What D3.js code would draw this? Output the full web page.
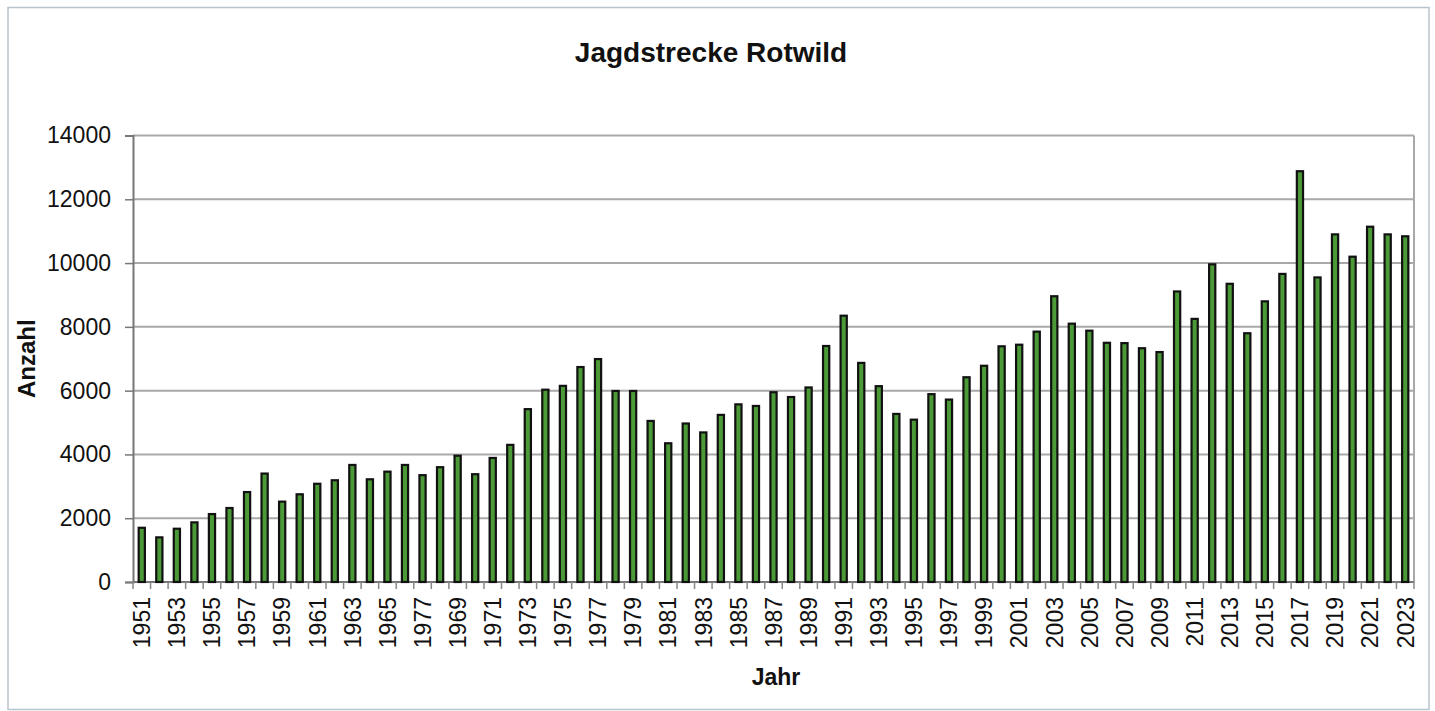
<!DOCTYPE html>
<html>
<head>
<meta charset="utf-8">
<script src="https://cdn.jsdelivr.net/npm/d3@7"></script>
<style>
  body { margin: 0; background: #fff; }
  text { font-family: Arial, "Liberation Sans", sans-serif; fill: #111; }
</style>
</head>
<body>
<script>
// Data
let years = d3.range(1951, 2024).map(String);
let values = [
  1700, 1400, 1670, 1870, 2130, 2320, 2820, 3400, 2520, 2750,
  3080, 3190, 3670, 3220, 3460, 3670, 3350, 3600, 3960, 3380,
  3890, 4300, 5420, 6030, 6150, 6740, 6990, 5990, 5990, 5050,
  4350, 4970, 4690, 5240, 5570, 5520, 5950, 5800, 6100, 7400,
  8350, 6870, 6140, 5270, 5090, 5890, 5720, 6420, 6780, 7390,
  7440, 7850, 8960, 8100, 7880, 7500, 7490, 7330, 7210, 9110,
  8250, 9960, 9350, 7800, 8800, 9660, 12880, 9550, 10900, 10200,
  11140, 10900, 10840
];
// labels as printed in the original (note "1977" where 1967 stands)
let tickLabels = [
  "1951", "1953", "1955", "1957", "1959", "1961", "1963", "1965", "1977", "1969",
  "1971", "1973", "1975", "1977", "1979", "1981", "1983", "1985", "1987", "1989",
  "1991", "1993", "1995", "1997", "1999", "2001", "2003", "2005", "2007", "2009",
  "2011", "2013", "2015", "2017", "2019", "2021", "2023"
];
let yTicks = [0, 2000, 4000, 6000, 8000, 10000, 12000, 14000];

let W = 1435, H = 711;
let plot = { left: 133, right: 1414, top: 135.5, bottom: 582 };

let svg = d3.select("body")
  .append("svg")
    .attr("width", W)
    .attr("height", H);

// Outer frame
svg.append("rect")
  .attr("x", 8).attr("y", 7.5)
  .attr("width", 1421).attr("height", 702)
  .attr("fill", "#fff")
  .attr("stroke", "#b9c3cb")
  .attr("stroke-width", 1.5);

let x = d3.scaleBand()
  .domain(years)
  .range([plot.left, plot.right])
  .padding(0);

let y = d3.scaleLinear()
  .domain([0, 14000])
  .range([plot.bottom, plot.top]);

// Gridlines
svg.append("g")
  .selectAll("line")
  .data(yTicks.slice(1))
  .enter().append("line")
    .attr("x1", plot.left).attr("x2", plot.right)
    .attr("y1", (d) => y(d)).attr("y2", (d) => y(d))
    .attr("stroke", "#a9a9a9")
    .attr("stroke-width", 2);

// Right border
svg.append("line")
  .attr("x1", plot.right).attr("x2", plot.right)
  .attr("y1", plot.top).attr("y2", plot.bottom)
  .attr("stroke", "#a9a9a9")
  .attr("stroke-width", 2);

// Y axis
let yAxis = svg.append("g")
  .attr("transform", "translate(" + plot.left + ",0)")
  .call(d3.axisLeft(y)
    .tickValues(yTicks)
    .tickFormat(d3.format("d"))
    .tickSize(8)
    .tickPadding(14));
yAxis.select(".domain").attr("stroke", "#777").attr("stroke-width", 2);
yAxis.selectAll(".tick line").attr("stroke", "#777").attr("stroke-width", 1.5);
yAxis.selectAll("text")
  .style("font-size", "23px")
  .attr("fill", "#111");

// X axis line and ticks at band boundaries
let xg = svg.append("g");
xg.append("line")
  .attr("x1", plot.left).attr("x2", plot.right)
  .attr("y1", plot.bottom).attr("y2", plot.bottom)
  .attr("stroke", "#777")
  .attr("stroke-width", 2);
xg.selectAll("line.tk")
  .data(years.concat(["end"]))
  .enter().append("line")
    .attr("class", "tk")
    .attr("x1", (d) => d === "end" ? plot.right : x(d))
    .attr("x2", (d) => d === "end" ? plot.right : x(d))
    .attr("y1", plot.bottom).attr("y2", plot.bottom + 7)
    .attr("stroke", "#888")
    .attr("stroke-width", 1.5);

// X tick labels (every second year)
let labelYears = years.filter((d, i) => i % 2 === 0);
let xAxis = svg.append("g")
  .attr("transform", "translate(0," + plot.bottom + ")")
  .call(d3.axisBottom(x)
    .tickValues(labelYears)
    .tickSize(0)
    .tickFormat((d, i) => tickLabels[i]));
xAxis.select(".domain").remove();
xAxis.selectAll("text")
  .style("font-size", "23px")
  .attr("fill", "#111")
  .attr("text-anchor", "end")
  .attr("dy", "0.36em")
  .attr("transform", "translate(0,15) rotate(-90)")
  .attr("x", 0)
  .attr("y", 0);

// Bars
let barW = 6.2;
svg.append("g")
  .selectAll("rect")
  .data(values)
  .enter().append("rect")
    .attr("x", (d, i) => x(years[i]) + x.bandwidth() / 2 - barW / 2)
    .attr("y", (d) => y(d))
    .attr("width", barW)
    .attr("height", (d) => plot.bottom - y(d))
    .attr("fill", "#4b9a37")
    .attr("stroke", "#111")
    .attr("stroke-width", 2.2);

// Title
svg.append("text")
  .attr("x", 711)
  .attr("y", 62)
  .attr("text-anchor", "middle")
  .style("font-size", "28px")
  .style("font-weight", "bold")
  .text("Jagdstrecke Rotwild");

// Axis labels
svg.append("text")
  .attr("transform", "translate(35," + ((plot.top + plot.bottom) / 2) + ") rotate(-90)")
  .attr("text-anchor", "middle")
  .style("font-size", "24px")
  .style("font-weight", "bold")
  .text("Anzahl");

svg.append("text")
  .attr("x", 776)
  .attr("y", 685)
  .attr("text-anchor", "middle")
  .style("font-size", "23px")
  .style("font-weight", "bold")
  .text("Jahr");
</script>
</body>
</html>
